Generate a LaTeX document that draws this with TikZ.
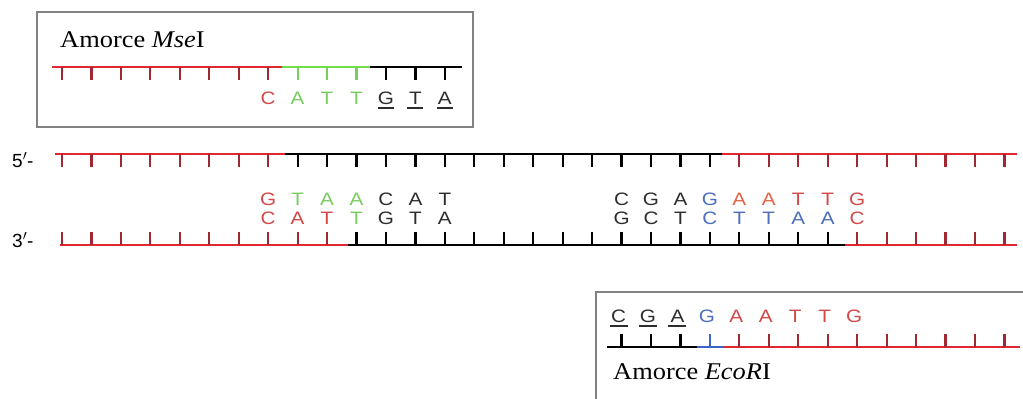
\documentclass[tikz,border=0pt]{standalone}
\usepackage{fontspec}
\setmainfont{Liberation Serif}
\setsansfont{Liberation Sans}
\definecolor{dred}{RGB}{225,40,48}
\definecolor{tred}{RGB}{160,40,50}
\definecolor{lred}{RGB}{212,72,72}
\definecolor{lorange}{RGB}{226,100,70}
\definecolor{dgreen}{RGB}{110,225,70}
\definecolor{tgreen}{RGB}{120,205,95}
\definecolor{lgreen}{RGB}{120,205,95}
\definecolor{dblue}{RGB}{60,100,200}
\definecolor{lblue}{RGB}{75,110,190}
\definecolor{lgray}{RGB}{45,45,45}
\definecolor{boxgray}{RGB}{130,130,130}
\begin{document}
\begin{tikzpicture}[x=1pt,y=-1pt,
  seq/.style={font=\sffamily\fontsize{18}{18}\selectfont, inner sep=0pt, anchor=center, xscale=1.15},
  endlbl/.style={font=\sffamily\fontsize{19}{19}\selectfont, inner sep=0pt, anchor=west},
  lbl/.style={font=\fontsize{24}{24}\selectfont, inner sep=0pt, anchor=base west, xscale=1.1},
  strand/.style={line width=2.4pt},
  tk/.style={line width=2.2pt},
  uline/.style={line width=1.2pt, lgray},
  boxst/.style={draw=boxgray, line width=1.5pt}]
\useasboundingbox (0,0) rectangle (1023,399);
\fill[white] (0,0) rectangle (1023,399);
\clip (0,0) rectangle (1023,399);
\def\gx#1{62+29.45*#1}
% ---------- top box (MseI primer) ----------
\draw[boxst] (37,12) rectangle (473,127);
\node[lbl] (mselabel) at (60,47) {Amorce \textit{Mse}I};
\draw[strand, dred] (52,67) -- (282,67);
\draw[strand, dgreen] (282,67) -- (370,67);
\draw[strand, black] (370,67) -- (462,67);
\foreach \k in {0,...,7} \draw[tk,tred] ({\gx{\k}},67) -- ++(0,13);
\foreach \k in {8,...,10} \draw[tk,tgreen] ({\gx{\k}},67) -- ++(0,13);
\foreach \k in {11,...,13} \draw[tk,black] ({\gx{\k}},67) -- ++(0,13);
\foreach \k/\l/\c in {7/C/lred,8/A/lgreen,9/T/lgreen,10/T/lgreen,11/G/lgray,12/T/lgray,13/A/lgray}
  \node[seq,text=\c] (m\k) at ({\gx{\k}},98.5) {\l};
\foreach \k in {11,12,13} \draw[uline] ({\gx{\k}-8},108) -- ({\gx{\k}+8},108);
% ---------- main double strand ----------
\node[endlbl] (five) at (12,160) {5$'$-};
\node[endlbl] (three) at (12,240) {3$'$-};
\draw[strand, dred] (55,154) -- (285,154);
\draw[strand, black] (285,154) -- (722,154);
\draw[strand, dred] (722,154) -- (1017,154);
\foreach \k in {0,...,7} \draw[tk,tred] ({\gx{\k}},154) -- ++(0,13);
\foreach \k in {8,...,22} \draw[tk,black] ({\gx{\k}},154) -- ++(0,13);
\foreach \k in {23,...,32} \draw[tk,tred] ({\gx{\k}},154) -- ++(0,13);
\draw[strand, dred] (60,245) -- (348,245);
\draw[strand, black] (348,245) -- (845,245);
\draw[strand, dred] (845,245) -- (1017,245);
\foreach \k in {0,...,9} \draw[tk,tred] ({\gx{\k}},245) -- ++(0,-13);
\foreach \k in {10,...,26} \draw[tk,black] ({\gx{\k}},245) -- ++(0,-13);
\foreach \k in {27,...,32} \draw[tk,tred] ({\gx{\k}},245) -- ++(0,-13);
\foreach \k/\l/\c in {7/G/lred,8/T/lgreen,9/A/lgreen,10/A/lgreen,11/C/lgray,12/A/lgray,13/T/lgray,
  19/C/lgray,20/G/lgray,21/A/lgray,22/G/lblue,23/A/lorange,24/A/lorange,25/T/lred,26/T/lred,27/G/lred}
  \node[seq,text=\c] (t\k) at ({\gx{\k}},199) {\l};
\foreach \k/\l/\c in {7/C/lred,8/A/lred,9/T/lred,10/T/lgreen,11/G/lgray,12/T/lgray,13/A/lgray,
  19/G/lgray,20/C/lgray,21/T/lgray,22/C/lblue,23/T/lblue,24/T/lblue,25/A/lblue,26/A/lblue,27/C/lred}
  \node[seq,text=\c] (b\k) at ({\gx{\k}},218) {\l};
% ---------- bottom box (EcoRI primer) ----------
\draw[boxst] (596,292) rectangle (1060,430);
\foreach \k/\l/\c in {19/C/lgray,20/G/lgray,21/A/lgray,22/G/lblue,23/A/lred,24/A/lred,25/T/lred,26/T/lred,27/G/lred}
  \node[seq,text=\c] (e\k) at ({\gx{\k}-3},316) {\l};
\foreach \k in {19,20,21} \draw[uline] ({\gx{\k}-12},326) -- ({\gx{\k}+6},326);
\draw[strand, black] (607,347) -- (697,347);
\draw[strand, dblue] (697,347) -- (723,347);
\draw[strand, dred] (723,347) -- (1020,347);
\foreach \k in {19,20,21} \draw[tk,black] ({\gx{\k}},347) -- ++(0,-13);
\draw[tk,dblue] ({\gx{22}},347) -- ++(0,-13);
\foreach \k in {23,...,32} \draw[tk,tred] ({\gx{\k}},347) -- ++(0,-13);
\node[lbl] (ecolabel) at (613,379) {Amorce \textit{EcoR}I};
\end{tikzpicture}
\end{document}
